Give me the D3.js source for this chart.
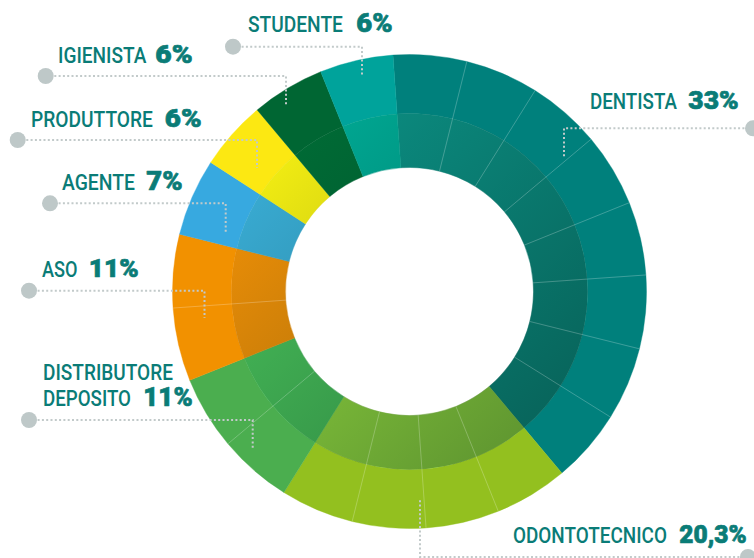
<!DOCTYPE html>
<html>
<head>
<meta charset="utf-8">
<script src="https://cdn.jsdelivr.net/npm/d3@7/dist/d3.min.js"></script>
<style>
  html, body { margin: 0; padding: 0; background: #ffffff; }
  svg { display: block; }
</style>
</head>
<body>
<svg id="chart" width="754" height="558"></svg>
<script>
// ---------- data ----------
const categories = ["DENTISTA", "ODONTOTECNICO", "DISTRIBUTORE DEPOSITO", "ASO", "AGENTE", "PRODUTTORE", "IGIENISTA", "STUDENTE"];
const percentLabels = ["33%", "20,3%", "11%", "11%", "7%", "6%", "6%", "6%"];
// drawn angular weight of each slice (degrees)
const arcWeights = [144, 72, 36, 36, 19, 17, 18, 18];
// number of thin sub-segments inside each slice
const subSegments = [8, 4, 2, 2, 1, 1, 1, 1];
const outerColors = ["#00807C", "#93C01F", "#4BAE4F", "#F29100", "#37A9E0", "#FCE812", "#006633", "#00A39B"];
const innerColors = ["#0C9488", "#9BE442", "#4CC95E", "#FB9606", "#3CB3DD", "#FFF812", "#006F37", "#00B09A"];

// ---------- layout ----------
const W = 754, H = 558;
const cx = 409.5, cy = 291.5;
const rOuter = 237, rMid = 178, rInner = 124;
const startDeg = -4;

const svg = d3.select("#chart");
const rad = d => d * Math.PI / 180;

const pie = d3.pie()
  .sort(null)
  .value(d => d.w)
  .startAngle(rad(startDeg))
  .endAngle(rad(startDeg + 360));

const data = categories.map((c, i) => ({ c, i, w: arcWeights[i], n: subSegments[i] }));
const arcs = pie(data);

const outerArc = d3.arc().innerRadius(rMid).outerRadius(rOuter);
const innerArc = d3.arc().innerRadius(rInner).outerRadius(rMid);

const defs = svg.append("defs");
const grad = defs.append("linearGradient")
  .attr("id", "shade")
  .attr("gradientUnits", "userSpaceOnUse")
  .attr("x1", -rMid).attr("y1", -rMid)
  .attr("x2", rMid).attr("y2", rMid);
grad.append("stop").attr("offset", 0).attr("stop-color", "#001a14").attr("stop-opacity", 0);
grad.append("stop").attr("offset", 1).attr("stop-color", "#001a14").attr("stop-opacity", 0.44);

const g = svg.append("g").attr("transform", `translate(${cx},${cy})`);

g.selectAll("path.outer").data(arcs).enter().append("path")
  .attr("class", "outer")
  .attr("d", outerArc)
  .attr("fill", d => outerColors[d.data.i])
  .attr("stroke", d => outerColors[d.data.i])
  .attr("stroke-width", 0.4);

g.selectAll("path.inner").data(arcs).enter().append("path")
  .attr("class", "inner")
  .attr("d", innerArc)
  .attr("fill", d => innerColors[d.data.i])
  .attr("stroke", d => innerColors[d.data.i])
  .attr("stroke-width", 0.4);

// shading overlay on inner ring
g.append("path")
  .attr("d", d3.arc().innerRadius(rInner - 0.3).outerRadius(rMid + 0.2).startAngle(0).endAngle(2 * Math.PI)())
  .attr("fill", "url(#shade)");

// thin sub-segment lines
const subLines = [];
arcs.forEach(a => {
  const n = a.data.n;
  for (let k = 1; k < n; k++) {
    subLines.push(a.startAngle + (a.endAngle - a.startAngle) * k / n);
  }
});
g.selectAll("line.sub").data(subLines).enter().append("line")
  .attr("class", "sub")
  .attr("x1", a => rInner * Math.sin(a))
  .attr("y1", a => -rInner * Math.cos(a))
  .attr("x2", a => rOuter * Math.sin(a))
  .attr("y2", a => -rOuter * Math.cos(a))
  .attr("stroke", "#ffffff")
  .attr("stroke-opacity", 0.3)
  .attr("stroke-width", 0.8);

// ---------- labels ----------
const labelLayout = [
  { rows: [{ name: [590, 677], pct: [688, 739], y: 109 }], dot: [753, 128.3], corner: 564, endY: 157 },
  { rows: [{ name: [513, 667], pct: [679, 747], y: 543 }], dot: [748, 557], corner: 420, endY: 500 },
  { rows: [{ name: [43, 173], y: 380 }, { name: [43, 131], pct: [143, 193], y: 405.5 }], dot: [29, 420], corner: 252.7, endY: 448 },
  { rows: [{ name: [42, 77.5], pct: [88.5, 139], y: 277 }], dot: [29, 290.7], corner: 204.5, endY: 318 },
  { rows: [{ name: [62, 135], pct: [146, 183], y: 190 }], dot: [50, 203.3], corner: 225.7, endY: 231.7 },
  { rows: [{ name: [31, 153], pct: [164.5, 202], y: 126.7 }], dot: [17.7, 140], corner: 257, endY: 168 },
  { rows: [{ name: [58, 146.5], pct: [155, 193], y: 63 }], dot: [45.7, 76], corner: 286, endY: 105 },
  { rows: [{ name: [248, 343], pct: [356, 393], y: 32 }], dot: [233, 46.7], corner: 362, endY: 75 }
];

const dotColor = "#BEC8C8";
const lineColor = "#C2CACA";
const textColor = "#0A7C77";

function fitText(parent, str, x0, x1, y, size, weight, stroke) {
  const t = parent.append("text")
    .attr("x", 0).attr("y", 0)
    .attr("font-family", "Roboto, 'Open Sans', sans-serif")
    .attr("font-size", size)
    .attr("font-weight", weight)
    .attr("fill", textColor)
    .text(str);
  if (stroke) {
    t.attr("stroke", textColor).attr("stroke-width", stroke).attr("stroke-linejoin", "round");
  }
  const w = t.node().getComputedTextLength();
  const sx = (x1 - x0 - (stroke || 0)) / w;
  t.attr("transform", `translate(${x0 + (stroke || 0) / 2},${y}) scale(${sx},1)`);
  return t;
}

const lab = svg.append("g");
categories.forEach((cat, i) => {
  const L = labelLayout[i];
  lab.append("path")
    .attr("d", `M${L.dot[0]},${L.dot[1]} L${L.corner},${L.dot[1]} L${L.corner},${L.endY}`)
    .attr("fill", "none")
    .attr("stroke", lineColor)
    .attr("stroke-width", 2)
    .attr("stroke-dasharray", "2 2.3");
  lab.append("circle")
    .attr("cx", L.dot[0]).attr("cy", L.dot[1]).attr("r", 8)
    .attr("fill", dotColor);
  const words = cat.split(" ");
  const nameParts = L.rows.length === 2 ? [words[0], words.slice(1).join(" ")] : [cat];
  L.rows.forEach((row, r) => {
    fitText(lab, nameParts[r], row.name[0], row.name[1], row.y, 22.5, 500, 0);
    if (row.pct) {
      fitText(lab, percentLabels[i], row.pct[0], row.pct[1], row.y, 25.5, 900, 0.7);
    }
  });
});
</script>
</body>
</html>
